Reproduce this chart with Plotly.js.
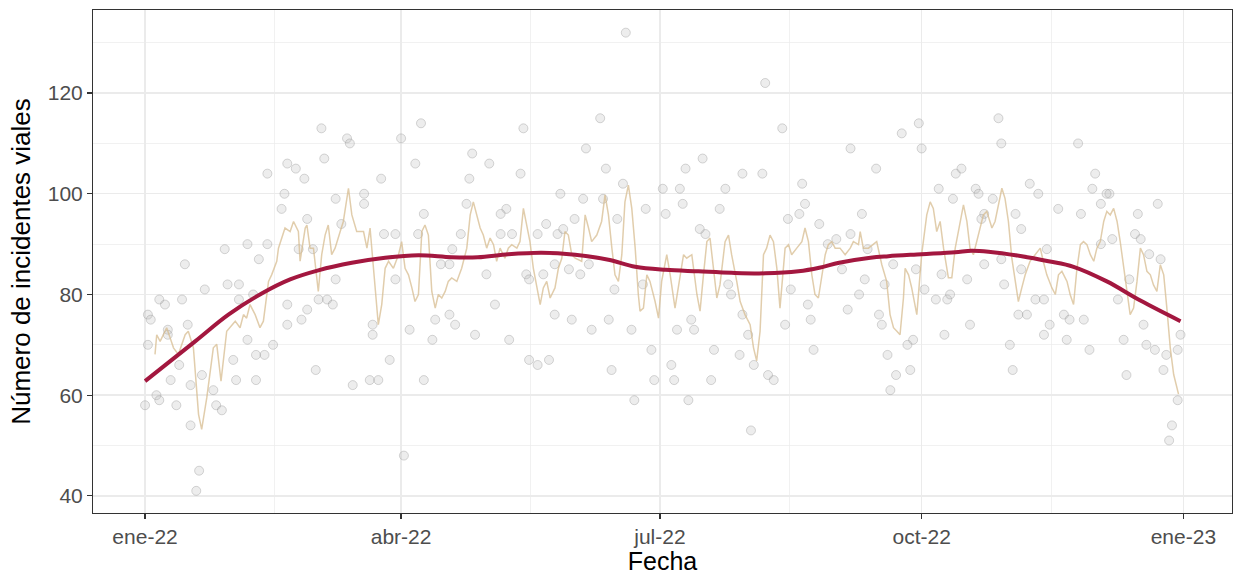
<!DOCTYPE html>
<html>
<head>
<meta charset="utf-8">
<script src="https://cdn.plot.ly/plotly-3.0.1.min.js"></script>
<style>html,body{margin:0;padding:0;background:#fff;}#chart{width:1233px;height:575px;}</style>
</head>
<body>
<div id="chart"></div>
<script>
// Day offsets from 2022-01-01 and daily incident counts (visible points)
const diaPunto = [50,43,49,48,28,36,43,40,14,29,33,21,5,7,13,1,2,38,33,50,15,50,8,1,8,36,45,39,42,31,12,9,16,20,32,39,24,4,5,0,11,25,27,16,19,18,
62,71,72,90,97,53,56,63,83,95,115,114,67,77,77,57,98,113,69,84,88,96,111,54,59,108,104,107,67,88,61,64,66,57,55,80,80,93,102,107,109,101,116,60,86,73,79,82,98,91,
169,160,133,155,162,121,132,168,182,146,154,161,127,125,151,166,176,183,141,125,138,145,147,129,144,134,140,149,153,156,120,165,135,175,123,144,150,157,163,171,128,178,135,138,142,164,179,172,
218,224,196,190,210,217,188,204,231,248,189,202,232,226,230,237,195,197,243,248,240,245,205,206,227,233,247,192,187,193,210,225,234,212,200,209,235,214,185,186,199,219,221,191,213,
300,272,266,273,301,257,285,287,279,292,293,311,314,284,298,252,306,295,294,308,254,263,295,301,271,253,289,308,280,251,260,274,278,282,283,302,313,316,258,259,290,307,310,281,270,268,304,261,316,264,269,305,262,
328,334,333,339,338,336,356,321,329,349,348,350,340,336,353,357,317,342,346,323,325,330,318,351,324,344,332,352,355,359,363,364,358,345,363,361,360];
const valorPunto = [106,104,100,97,89,90,90,87,86,82,82,81,79,78,79,76,75,80,79,78,74,74,73,70,72,71,70,68,68,67,66,63,62,64,63,63,61,60,59,58,58,58,57,54,45,41,
113,111,110,111,114,105,103,107,103,106,108,103,99,100,98,95,96,98,94,92,92,92,92,89,89,89,86,86,83,83,79,79,78,77,75,74,72,73,75,76,74,71,72,65,67,62,63,63,63,48,
132,115,113,109,105,106,104,102,101,100,99,99,97,96,95,95,97,96,94,92,92,92,93,92,86,84,84,85,84,86,84,81,83,82,78,76,75,73,75,73,71,69,67,66,67,65,63,59,
122,113,107,105,104,104,101,101,102,109,98,97,98,95,96,94,93,92,91,92,90,85,82,80,81,78,77,75,73,73,76,74,75,72,69,68,69,66,66,63,63,64,63,59,53,
115,114,112,109,110,105,104,105,101,101,100,102,100,99,99,96,96,96,95,93,89,86,86,87,85,83,83,85,84,80,82,81,79,79,80,82,79,79,76,74,74,76,76,72,71,70,70,68,72,64,65,65,61,
110,104,101,100,100,98,98,97,96,96,92,91,91,90,88,87,89,79,83,76,75,75,74,74,71,71,69,70,69,68,69,72,65,64,59,54,51];

// Thin tan line (short rolling mean), day offset and value
const diaMedia = [3.5,4.1,5.3,6.5,7.6,8.8,10.0,11.7,14.1,15.2,17.0,18.8,19.9,21.7,24.0,25.2,26.7,28.7,30.5,31.7,33.4,34.6,35.7,36.9,38.7,40.4,41.6,43.4,44.5,46.3,46.9,49.2,
51.0,52.2,53.9,54.5,56.3,56.9,58.0,59.2,60.9,62.1,63.3,64.4,65.6,66.8,68.6,69.7,71.5,72.7,74.4,76.8,78.0,79.1,80.3,82.0,83.2,84.4,85.6,87.3,89.1,90.2,91.4,92.6,93.8,94.9,96.1,97.3,98.4,99.6,100.8,102.0,103.1,104.3,105.5,106.6,107.8,109.6,111.3,113.1,114.3,115.4,
117.8,118.9,120.1,121.3,122.5,123.6,124.8,126.5,127.7,128.9,130.7,131.8,133.0,134.2,135.3,136.5,137.7,138.9,140.0,141.2,142.4,144.1,145.3,146.5,147.6,148.8,150.0,151.2,153.5,154.7,155.9,157.0,158.8,160.5,161.7,162.9,164.1,165.2,166.4,167.6,168.7,169.9,171.1,172.3,173.4,174.0,175.2,176.4,177.5,179.3,180.5,181.6,183.4,
184.6,186.3,187.5,189.3,190.4,192.2,194.0,195.1,196.3,197.5,198.6,199.8,201.0,202.1,203.9,205.1,206.2,208.0,209.2,210.9,212.7,213.9,215.0,216.2,217.4,218.5,219.7,220.9,222.1,223.2,225.0,226.2,227.3,229.1,230.9,232.0,233.2,234.4,235.5,236.7,237.9,239.1,240.2,241.4,242.6,244.3,246.1,247.9,249.0,250.8,
251.4,252.5,254.3,256.1,257.2,259.0,260.7,261.9,263.1,264.3,265.4,266.6,267.2,268.4,269.5,271.3,273.0,274.8,276.0,277.1,278.3,279.5,280.7,282.4,283.6,284.8,286.5,287.7,288.9,290.0,291.2,293.0,294.7,295.9,297.7,298.8,300.6,301.2,302.3,303.5,304.7,305.9,307.0,308.2,309.4,311.1,312.9,314.7,315.8,317.0,
318.8,320.0,321.1,322.3,324.1,325.2,326.4,327.6,328.8,329.9,331.1,332.3,333.5,334.6,335.8,337.0,338.1,339.3,340.5,341.7,342.8,344.0,345.2,346.3,347.5,348.7,349.9,351.0,352.2,353.4,354.5,355.7,356.9,358.1,359.2,360.4,361.6,362.8,363.3];
const valorMedia = [68.1,72.0,70.7,72.0,73.4,71.4,69.4,68.1,72.0,72.7,69.4,56.2,53.2,59.5,69.4,70.1,62.8,72.7,74.0,74.7,73.4,76.0,75.3,78.0,76.0,73.4,74.7,82.6,83.9,86.6,89.2,93.2,
92.5,94.5,92.5,86.6,93.2,93.8,89.2,89.2,80.6,87.9,91.8,93.8,87.9,89.2,92.5,94.5,101.1,95.8,92.5,92.5,89.2,93.2,85.2,74.0,78.0,85.2,86.6,85.2,87.9,90.5,85.2,83.9,81.3,78.6,80.0,92.5,93.8,91.8,80.6,77.3,80.0,79.3,80.6,82.6,83.3,82.6,85.2,89.2,95.8,98.4,
93.2,91.8,89.2,91.2,89.9,86.6,89.2,87.2,89.2,89.9,89.2,90.5,97.1,93.8,90.5,85.2,81.3,78.0,81.3,82.6,79.3,81.3,85.2,87.2,92.5,91.8,87.9,87.2,86.6,95.8,93.2,90.5,91.8,94.5,99.8,95.8,89.2,83.9,82.6,87.9,98.4,101.7,97.1,89.2,80.0,76.7,77.3,83.9,82.6,78.6,75.3,82.6,87.9,
83.9,77.3,81.3,87.9,87.2,87.9,80.0,76.7,83.9,90.5,91.2,85.2,79.3,81.9,90.5,91.8,87.9,82.6,78.6,76.0,74.0,69.4,66.8,72.7,87.9,89.2,91.8,90.5,85.2,77.3,89.2,89.9,87.9,89.2,90.5,93.2,90.5,83.9,80.0,79.3,83.9,87.9,89.9,90.5,89.2,89.2,87.9,89.2,90.5,89.9,
92.5,89.2,89.2,89.9,90.5,85.9,82.6,76.0,73.4,72.7,72.0,79.3,85.2,83.9,81.3,76.0,87.9,95.8,98.4,97.1,92.5,94.5,89.2,83.3,83.3,89.2,94.5,97.8,94.5,89.2,87.9,91.8,95.8,96.5,93.2,94.5,99.1,101.1,99.1,94.5,87.2,82.6,78.6,81.3,83.9,86.6,87.9,89.2,86.5,83.9,
81.3,80.0,83.9,84.6,82.6,80.0,78.0,85.2,89.9,90.5,89.9,87.9,86.6,89.2,90.5,94.5,96.5,95.8,97.1,94.5,90.5,85.2,80.6,76.0,77.3,82.6,89.2,87.9,84.6,83.9,81.9,80.6,85.9,83.9,77.3,69.4,64.1,61.5,60.2];

// Smooth trend (red), day offset and value
const diaTendencia = [0,17.6,29.3,41,51,60.9,72.7,84.4,96.1,107.8,117,127.7,139.4,151.2,162.9,172.3,183,194.5,206.2,218,229.7,237,244,255,261.3,273,284.8,290.6,296.5,308.2,317.6,326.4,338.1,349.9,364];
const valorTendencia = [62.8,70.7,76.0,80.2,83.0,84.8,86.3,87.3,87.8,87.4,87.4,88.0,88.3,87.9,86.9,85.5,84.9,84.6,84.3,84.2,84.6,85.3,86.3,87.3,87.6,88.0,88.4,88.7,88.5,87.6,86.6,85.5,82.6,78.8,74.7];

const etiquetasX = ['ene-22','abr-22','jul-22','oct-22','ene-23'];
const fechasX = ['2022-01-01','2022-04-01','2022-07-01','2022-10-01','2023-01-01'];
const menoresX = ['2022-02-15 12:00','2022-05-16 12:00','2022-08-15 12:00','2022-11-15 12:00'];
const ticksY = [40,60,80,100,120];
const menoresY = [50,70,90,110,130];

const base = Date.UTC(2022,0,1);
const DAY = 86400000;
const toDate = d => base + d*DAY;

const font = 'Liberation Sans, Arial, sans-serif';

const traces = [
  {x: diaPunto.map(toDate), y: valorPunto, type:'scatter', mode:'markers',
   marker:{size:9, color:'rgba(185,185,185,0.26)', line:{color:'rgba(140,140,140,0.35)', width:1}},
   hoverinfo:'skip', showlegend:false},
  {x: diaMedia.map(toDate), y: valorMedia, type:'scatter', mode:'lines',
   line:{color:'rgba(214,186,140,0.72)', width:1.5}, hoverinfo:'skip', showlegend:false},
  {x: diaTendencia.map(toDate), y: valorTendencia, type:'scatter', mode:'lines',
   line:{color:'#A3173F', width:4, shape:'spline', smoothing:1}, hoverinfo:'skip', showlegend:false}
];

const layout = {
  width:1233, height:575,
  margin:{l:93, r:1, t:10, b:62},
  paper_bgcolor:'#ffffff', plot_bgcolor:'#ffffff',
  font:{family:font, color:'#4D4D4D'},
  showlegend:false,
  xaxis:{
    type:'date',
    range:[toDate(-18.3), toDate(382.1)],
    tickmode:'array', tickvals:fechasX, ticktext:etiquetasX,
    tickfont:{size:21, color:'#4D4D4D', family:font},
    ticks:'outside', ticklen:5, tickwidth:1.2, tickcolor:'#333333',
    showgrid:true, gridcolor:'#EBEBEB', gridwidth:1.4,
    minor:{tickmode:'array', tickvals:menoresX, showgrid:true, gridcolor:'#EBEBEB', gridwidth:0.7, ticks:''},
    showline:true, mirror:true, linecolor:'#333333', linewidth:1,
    zeroline:false,
    title:{text:'Fecha', font:{size:25, color:'#000000', family:font}, standoff:9}
  },
  yaxis:{
    range:[36.6, 136.5],
    tickmode:'array', tickvals:ticksY,
    tickfont:{size:21, color:'#4D4D4D', family:font},
    ticks:'outside', ticklen:5, tickwidth:1.2, tickcolor:'#333333',
    showgrid:true, gridcolor:'#EBEBEB', gridwidth:1.4,
    minor:{tickmode:'array', tickvals:menoresY, showgrid:true, gridcolor:'#EBEBEB', gridwidth:0.7, ticks:''},
    showline:true, mirror:true, linecolor:'#333333', linewidth:1,
    zeroline:false,
    title:{text:'Número de incidentes viales', font:{size:26, color:'#000000', family:font}, standoff:9}
  }
};

Plotly.newPlot('chart', traces, layout, {displayModeBar:false, staticPlot:true});
</script>
</body>
</html>
